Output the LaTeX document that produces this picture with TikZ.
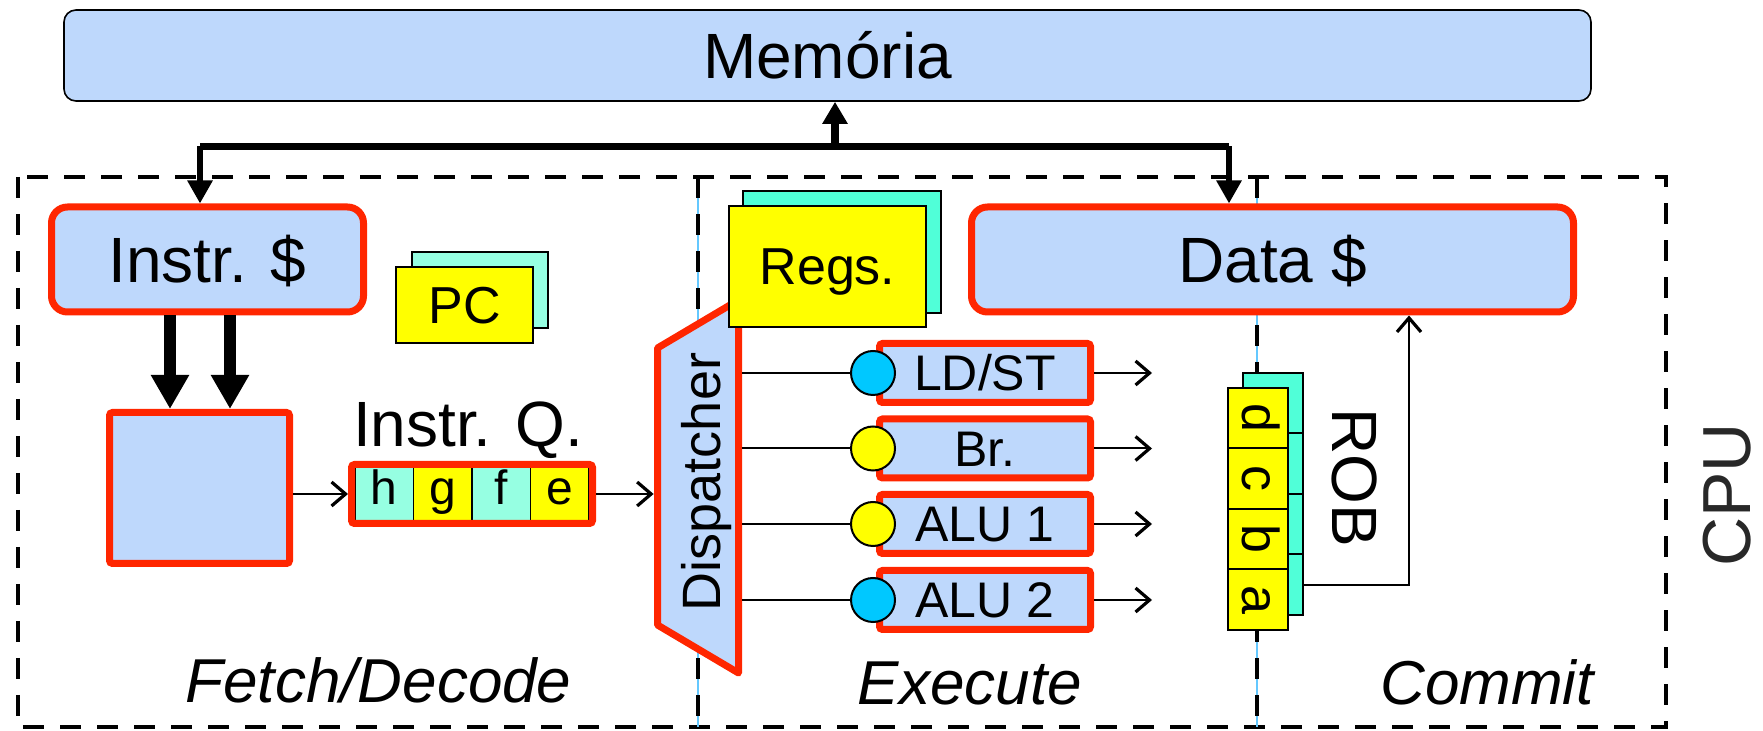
\documentclass[tikz,border=0pt]{standalone}
\usepackage{fontspec}
\setmainfont{Liberation Sans}
\usetikzlibrary{arrows.meta}

\definecolor{boxblue}{RGB}{190,216,252}
\definecolor{hotred}{RGB}{255,38,0}
\definecolor{regyellow}{RGB}{255,255,0}
\definecolor{aquaback}{RGB}{80,255,216}
\definecolor{aqualight}{RGB}{150,255,226}
\definecolor{dotcyan}{RGB}{0,200,255}
\definecolor{sepcyan}{RGB}{100,200,255}
\definecolor{cputext}{RGB}{40,40,40}

\newcommand{\sizeXL}{\fontsize{34pt}{40pt}\selectfont}
\newcommand{\sizeL}{\fontsize{32pt}{38pt}\selectfont}
\newcommand{\sizeI}{\fontsize{31pt}{37pt}\selectfont\itshape}
\newcommand{\sizeD}{\fontsize{27pt}{32pt}\selectfont}
\newcommand{\sizeM}{\fontsize{26pt}{31pt}\selectfont}
\newcommand{\sizeS}{\fontsize{25pt}{30pt}\selectfont}
\newcommand{\sizeQ}{\fontsize{24pt}{29pt}\selectfont}

\begin{document}
\begin{tikzpicture}[x=0.5pt,y=-0.5pt,
  dashline/.style={draw=black, line width=2.25pt, dash pattern=on 10.5pt off 8pt},
  redbox/.style={draw=hotred, line width=3.5pt, fill=boxblue, inner sep=0pt},
  cache/.style={redbox, rounded corners=8pt, minimum height=52.5pt,
    font=\sizeL, text height=23pt, text depth=0pt},
  unitbox/.style={redbox, rounded corners=1.5pt, minimum width=105.5pt,
    minimum height=29.5pt, font=\sizeS, text height=18pt, text depth=0pt},
  dot/.style={circle, draw=black, line width=1pt, minimum size=22pt, inner sep=0pt},
  sheet/.style={draw=black, line width=1pt, inner sep=0pt},
  qcell/.style={draw=black, line width=0.7pt, minimum width=29.25pt,
    minimum height=27pt, inner sep=0pt, font=\sizeQ, text height=17pt, text depth=6pt},
  robcell/.style={draw=black, line width=1pt, fill=regyellow, minimum width=30.25pt,
    minimum height=30pt, inner sep=0pt, rotate=-90, font=\sizeM,
    text height=19pt, text depth=3pt},
  robback/.style={draw=black, line width=1pt, fill=aquaback, minimum width=30pt,
    minimum height=30.25pt, inner sep=0pt},
  stage/.style={font=\sizeI, anchor=base, inner sep=0pt},
  thinarrow/.style={line width=1pt, -{Straight Barb[length=7pt,width=12pt,line width=1.6pt]}},
  fatarrow/.style={line width=6pt, -{Triangle[length=17pt,width=18pt]}},
  busarrow/.style={line width=3pt, -{Triangle[length=11.5pt,width=12pt]}}
]
\useasboundingbox (0,0) rectangle (1763,731);

% CPU boundary and stage separators
\draw[dashline] (18,177) rectangle (1666,727);
\foreach \sx in {698,1257} {
  \draw[sepcyan, line width=0.6pt] (\sx,177) -- (\sx,727);
  \draw[dashline] (\sx,177) -- (\sx,727);
}

% memory and bus
\node[draw=black, line width=0.8pt, fill=boxblue, rounded corners=6pt, inner sep=0pt,
  minimum width=763.5pt, minimum height=45.5pt, font=\sizeL, text height=23pt,
  text depth=0pt] (mem) at (827.5,55.5) {Memória};

\node[cache, minimum width=156pt] (instr) at (207.5,259.5) {Instr. \$};
\node[cache, minimum width=301pt] (data) at (1272.5,259.5) {Data \$};

\coordinate (busL) at (200,146.5);
\coordinate (busR) at (1229,146.5);
\coordinate (busM) at (835,146.5);
\draw[line width=3.5pt] (busL) -- (busR);
\draw[busarrow] (busL) -- (busL |- instr.north);
\draw[busarrow] (busR) -- (busR |- data.north);
\draw[line width=4pt, -{Triangle[length=11pt,width=12pt]}] (busM) -- (busM |- mem.south);

% fetch / decode
\node[sheet, fill=aqualight, minimum width=68pt, minimum height=38pt] (pcb) at (480,290) {};
\node[sheet, fill=regyellow, minimum width=68.5pt, minimum height=38pt,
  font=\sizeM, text height=18.5pt, text depth=0pt] (pc) at (464.5,305) {PC};

\node[redbox, rounded corners=1.5pt, minimum width=90pt, minimum height=75.5pt] (fetch) at (199.5,488) {};
\coordinate (fa) at (170,400);
\coordinate (fb) at (230,400);
\draw[fatarrow] (instr.south -| fa) -- (fa |- fetch.north);
\draw[fatarrow] (instr.south -| fb) -- (fb |- fetch.north);

\node[font=\sizeL, anchor=base, inner sep=0pt] (iqlabel) at (468,447) {Instr. Q.};
\node[qcell, fill=aqualight] (qh) at (384.25,494) {h};
\node[qcell, fill=regyellow] (qg) at (442.75,494) {g};
\node[qcell, fill=aqualight] (qf) at (501.25,494) {f};
\node[qcell, fill=regyellow] (qe) at (559.75,494) {e};
\node[draw=hotred, line width=3.5pt, rounded corners=1.5pt, inner sep=0pt,
  minimum width=120.5pt, minimum height=29.5pt] (iq) at (472,494) {};
\draw[thinarrow] (fetch.east |- iq.west) -- (iq.west);

% dispatcher
\node[minimum width=44pt, minimum height=190pt, inner sep=0pt] (dispbody) at (698,487) {};
\draw[draw=hotred, line width=3.5pt, fill=boxblue, line join=round]
  (657.5,348) -- (738.5,300) -- (738.5,673) -- (657.5,625) -- cycle;
\node[rotate=90, anchor=base, font=\sizeD, inner sep=0pt] (disp) at (720,482) {Dispatcher};
\draw[thinarrow] (iq.east) -- (iq.east -| dispbody.west);

% register file
\node[sheet, fill=aquaback, minimum width=99pt, minimum height=61pt] (regsb) at (842,252) {};
\node[sheet, fill=regyellow, minimum width=98.5pt, minimum height=60.5pt,
  font=\sizeM, text height=18.5pt, text depth=0pt] (regs) at (827.5,266.5) {Regs.};

% execution units
\node[unitbox] (u1) at (985,373) {LD/ST};
\node[unitbox] (u2) at (985,448.5) {Br.};
\node[unitbox] (u3) at (985,524) {ALU 1};
\node[unitbox] (u4) at (985,600) {ALU 2};
\node[dot, fill=dotcyan]   (c1) at (873,373) {};
\node[dot, fill=regyellow] (c2) at (873,448.5) {};
\node[dot, fill=regyellow] (c3) at (873,524) {};
\node[dot, fill=dotcyan]   (c4) at (873,600) {};
\foreach \k/\yy in {1/373,2/448.5,3/524,4/600} {
  \draw[line width=1pt] (dispbody.east |- c\k) -- (c\k.west);
  \coordinate (o\k) at (1152,\yy);
  \draw[thinarrow] (u\k.east) -- (o\k);
}

% reorder buffer
\node[robback] (rb1) at (1273,403.25) {};
\node[robback] (rb2) at (1273,463.75) {};
\node[robback] (rb3) at (1273,524.25) {};
\node[robback] (rb4) at (1273,584.75) {};
\node[robcell] (rd) at (1258,418.25) {d};
\node[robcell] (rc) at (1258,478.75) {c};
\node[robcell] (rbb) at (1258,539.25) {b};
\node[robcell] (ra) at (1258,599.75) {a};
\node[rotate=-90, anchor=base, font=\sizeL, inner sep=0pt] (roblabel) at (1332,478) {ROB};
\coordinate (rise) at (1409,584.75);
\draw[thinarrow] (rb4.east) -- (rise) -- (rise |- data.south);

% stage names
\node[stage] (fdlabel) at (378.5,703) {Fetch/Decode};
\node[stage] (exlabel) at (970,705) {Execute};
\node[stage] (cmlabel) at (1487,705) {Commit};
\node[rotate=90, anchor=base, font=\sizeXL, text=cputext, inner sep=0pt] (cpu) at (1750,495) {CPU};
\end{tikzpicture}
\end{document}
